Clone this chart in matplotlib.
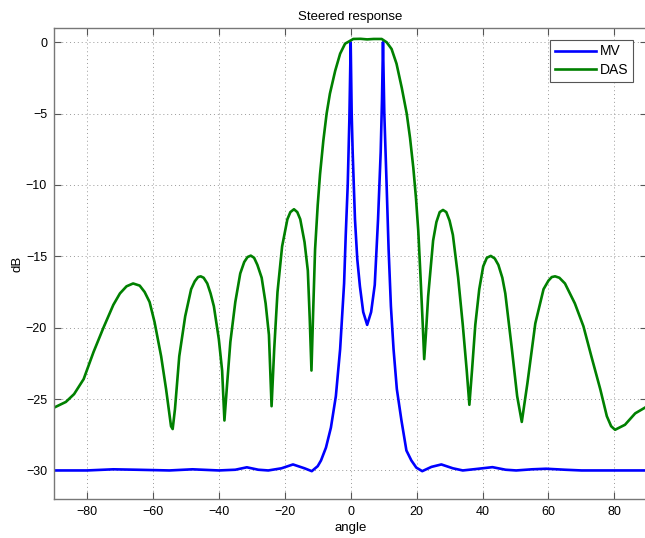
import matplotlib
matplotlib.use("Agg")
import matplotlib.pyplot as plt

# Values
das_angle = [-90, -86.4, -83.9, -81, -78, -75, -72, -70, -68, -66, -64, -62.5,
             -61, -59.5, -57.5, -56, -54.5, -54, -53.3, -52, -50.2, -48.4,
             -47.3, -46.3, -45.5, -44.6, -43.5, -42.5, -41.5, -40, -39, -38.3,
             -37.5, -36.5, -35, -33.5, -32.3, -31.3, -30.3, -29.3, -28.3, -27,
             -25.8, -24.8, -24, -23.2, -22.2, -20.8, -19.2, -18.3, -17.2,
             -16.2, -15.3, -14, -13, -12.4, -11.9, -11.4, -10.8, -10, -9.3,
             -8.3, -7.3, -6.3, -4.7, -3.2, -1.7, 0.8, 3, 5, 7, 9.4, 10.9,
             12.4, 13.9, 15.5, 17, 18, 19, 19.8, 20.5, 21.2, 21.9, 22.3, 22.8,
             23.5, 25, 26, 27, 28, 29, 30, 31, 32.6, 34, 35.2, 36, 36.8, 37.8,
             39, 40.2, 41.3, 42.5, 43.7, 44.8, 46, 46.9, 48.9, 50.5, 51.9, 53.6,
             56, 58.5, 60, 61, 62, 63.3, 65, 68, 70.6, 73, 75.7, 77.7, 79, 80.2,
             81.5, 83.2, 86.3, 90]
das_db = [-25.6, -25.2, -24.65, -23.6, -21.7, -20.0, -18.4, -17.6, -17.1,
          -16.9, -17.05, -17.5, -18.2, -19.6, -22.0, -24.3, -26.9, -27.1,
          -25.7, -22.0, -19.2, -17.3, -16.75, -16.45, -16.4, -16.5, -16.9,
          -17.6, -18.5, -20.8, -23.0, -26.5, -24.0, -21.0, -18.2, -16.2,
          -15.4, -15.05, -14.95, -15.1, -15.6, -16.5, -18.3, -20.5, -25.5,
          -21.5, -17.5, -14.3, -12.4, -11.9, -11.7, -11.9, -12.4, -14.0,
          -16.0, -19.5, -23.0, -19.0, -14.5, -11.4, -9.25, -6.9, -5.0, -3.6,
          -2.0, -0.8, -0.1, 0.23, 0.24, 0.2, 0.23, 0.23, 0.0, -0.47, -1.5,
          -3.2, -5.0, -6.7, -8.8, -10.9, -13.2, -16.5, -20.0, -22.2, -20.5,
          -17.8, -13.9, -12.6, -11.9, -11.75, -11.9, -12.5, -13.5, -16.5,
          -19.8, -23.0, -25.4, -23.0, -19.8, -17.3, -15.7, -15.1, -14.97,
          -15.15, -15.6, -16.5, -17.6, -21.5, -24.8, -26.6, -23.9, -19.7,
          -17.3, -16.7, -16.45, -16.4, -16.5, -16.9, -18.3, -19.9, -22.0,
          -24.3, -26.2, -26.9, -27.15, -27.0, -26.8, -26.0, -25.5]

mv_angle = [-90, -80, -72, -65, -55, -48, -40, -35, -31.5, -28, -25, -21,
            -17.5, -14, -11.8, -10, -9, -7.5, -6, -4.5, -3.2, -2.0, -1.5,
            -0.9, -0.4, 0, 0.3, 0.6, 1.3, 2, 2.8, 3.8, 5, 6.2, 7.3, 8.3, 9.1,
            9.5, 9.8, 10.2, 10.9, 11.5, 12.2, 13, 14, 15.4, 16.9, 18.4, 19.9,
            21.7, 24.5, 27.5, 31, 34, 38, 43, 47, 50.2, 55, 59.3, 65, 70, 90]
mv_db = [-30, -30, -29.92, -29.95, -30.0, -29.92, -30, -29.95, -29.78,
         -29.95, -30.0, -29.85, -29.58, -29.85, -30.05, -29.7, -29.3, -28.4,
         -27.0, -24.8, -21.5, -16.9, -13.5, -10, -5.4, 0, -5, -7.7, -12.4,
         -15.2, -17.1, -18.9, -19.8, -18.9, -17.0, -12.4, -7.7, -4, 0, -5,
         -10, -14.5, -18.5, -21.5, -24.3, -26.5, -28.6, -29.3, -29.8, -30.05,
         -29.75, -29.58, -29.85, -30, -29.9, -29.77, -29.95, -30, -29.92,
         -29.88, -29.95, -30, -30]

x_ticks = [-80, -60, -40, -20, 0, 20, 40, 60, 80]
y_ticks = [0, -5, -10, -15, -20, -25, -30]

plt.rcParams['font.family'] = ['Liberation Sans', 'DejaVu Sans']

fig = plt.figure(figsize=(6.45, 5.38), dpi=100)
ax = fig.add_axes([0.0837, 0.0725, 0.92, 0.8755])

ax.plot(mv_angle, mv_db, color=(0, 0, 1), linewidth=1.9, label='MV')
ax.plot(das_angle, das_db, color=(0, 0.5, 0), linewidth=1.9, label='DAS')

ax.set_xlim(-90, 90)
ax.set_ylim(-32, 1)
ax.set_xticks(x_ticks)
ax.set_yticks(y_ticks)
ax.set_xticklabels([f"\u2212{-t}" if t < 0 else str(t) for t in x_ticks])
ax.set_yticklabels([f"\u2212{-t}" if t < 0 else str(t) for t in y_ticks])
ax.tick_params(direction='in', length=5, width=0.8, color='#555555',
               labelsize=9, top=True, right=True, pad=5)
ax.grid(True, linestyle=(0, (1, 3)), color='#999999', linewidth=0.7)
for sp in ax.spines.values():
    sp.set_color('#777777')
    sp.set_linewidth(1.0)

ax.set_xlabel('angle', fontsize=9.5, labelpad=3)
ax.set_ylabel('dB', fontsize=9.5, labelpad=2)
ax.set_title('Steered response', fontsize=9.5, pad=6)

leg = ax.legend(loc='upper right', fontsize=10, fancybox=False, framealpha=1,
                edgecolor='#555555', handlelength=3.0, borderpad=0.35,
                labelspacing=0.3, handletextpad=0.25,
                bbox_to_anchor=(0.988, 0.99))
leg.get_frame().set_linewidth(0.8)

fig.savefig('out.png', dpi=100)
